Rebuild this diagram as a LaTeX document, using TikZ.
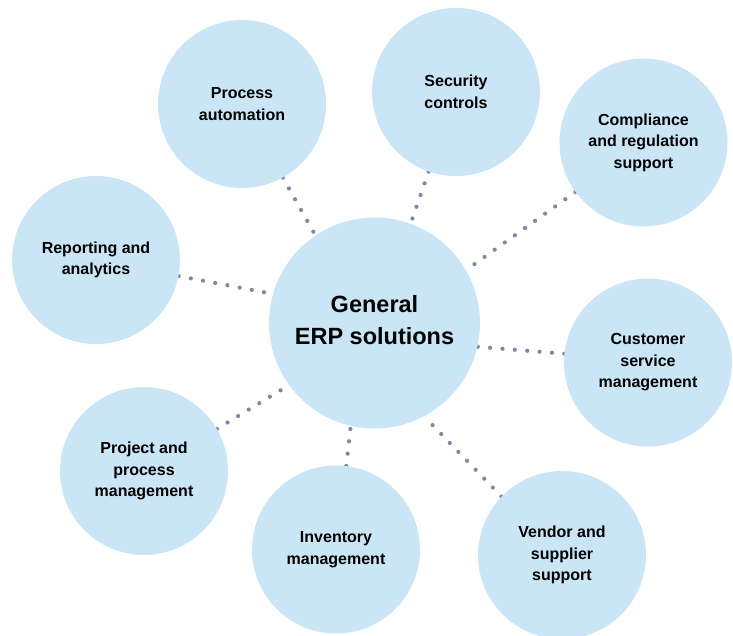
\documentclass[tikz,border=0pt]{standalone}
\usepackage{fontspec}
\setmainfont{Liberation Sans}
\usetikzlibrary{backgrounds}
\definecolor{bubble}{HTML}{CAE6F6}
\definecolor{dotc}{HTML}{7F87A6}
\tikzset{
  bub/.style={circle, fill=bubble, draw=none, inner sep=0pt, minimum size=168pt,
    align=center, font=\fontsize{16}{21.5}\selectfont\bfseries, text=black},
  hub/.style={circle, fill=bubble, draw=none, inner sep=0pt, minimum size=211pt,
    align=center, font=\fontsize{23.5}{32.4}\selectfont\bfseries, text=black},
  link/.style={dotc, line width=4.2pt, line cap=round, dash pattern=on 0pt off 12.4pt}
}
\begin{document}
\begin{tikzpicture}[x=1pt,y=-1pt]
\useasboundingbox (0,0) rectangle (733,635);
\node[hub] (c) at (374.5,323) {General\\ERP solutions\rule[-6pt]{0pt}{0pt}};
\node[bub] (pa) at (242,104) {Process\\automation};
\node[bub] (sc) at (456,92) {Security\\controls};
\node[bub] (cr) at (643.5,142.5) {Compliance\\and regulation\\support};
\node[bub] (ra) at (96,260) {Reporting and\\analytics};
\node[bub] (cs) at (648,362.5) {Customer\\service\\management};
\node[bub] (pp) at (144,471) {Project and\\process\\management};
\node[bub] (im) at (336,549.5) {Inventory\\management};
\node[bub] (vs) at (562,555) {Vendor and\\supplier\\support};
\begin{scope}[on background layer]
\draw[link] (pa.-61) -- (c.124);
\draw[link] (sc.-109) -- (c.70);
\draw[link] (cr.-144) -- (c.30);
\draw[link] (ra.-11) -- (c.164);
\draw[link] (cs.174) -- (c.-13);
\draw[link] (pp.30) -- (c.-144);
\draw[link] (im.83) -- (c.-103);
\draw[link] (vs.136) -- (c.-62);
\end{scope}
\end{tikzpicture}
\end{document}
